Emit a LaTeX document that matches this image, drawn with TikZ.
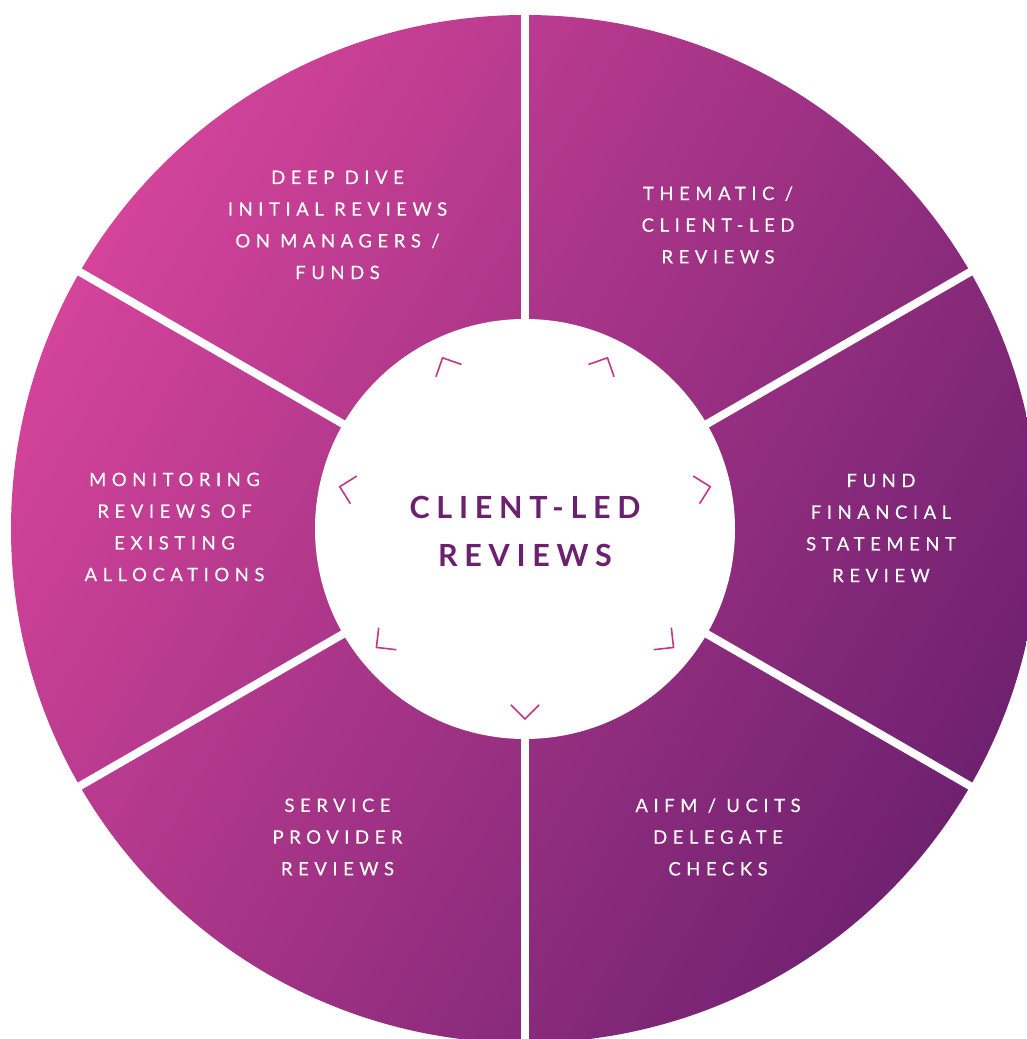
\documentclass[tikz,border=0pt]{standalone}
\usepackage{fontspec}
\setmainfont{Lato}
\newfontfamily\segfont[LetterSpace=30,FakeBold=0.35]{Lato}
\newfontfamily\ctrfont[LetterSpace=22]{Lato}
\usetikzlibrary{calc}
\definecolor{wheelA}{HTML}{D3449A}
\definecolor{wheelB}{HTML}{6F2170}
\definecolor{ctrtext}{HTML}{6B2170}
\definecolor{chev}{HTML}{C2368B}
\tikzset{
  sep/.style={white, line width=8pt},
  segtext/.style={text=white, align=center, inner sep=0pt,
    font=\segfont\fontsize{18.5}{31.7}\selectfont},
  ctrtextstyle/.style={text=ctrtext, align=center, inner sep=0pt,
    font=\ctrfont\bfseries\fontsize{30.5}{48}\selectfont},
  chevstyle/.style={draw=chev, line width=1.6pt, line cap=butt, line join=miter}
}
\begin{document}
\begin{tikzpicture}[x=1pt,y=1pt]
\useasboundingbox (0,0) rectangle (1027,1039);
\clip (0,0) rectangle (1027,1039);
\coordinate (O) at (525,510);
% shaded wheel
\shade[top color=wheelA, bottom color=wheelB, shading angle=60] (O) circle (514);
% separators
\foreach \a in {30,90,150,210,270,330}{
  \path (O) ++(\a:545) coordinate (e\a);
  \draw[sep] (O) -- (e\a);
}
% centre disc
\fill[white] (O) circle (210);
% chevrons
\foreach \k in {0,...,6}{
  \pgfmathsetmacro{\ang}{-90+\k*360/7}
  \path (O) ++(\ang:190) coordinate (v\k);
  \path (v\k) ++(\ang+135:20) coordinate (p\k);
  \path (v\k) ++(\ang-135:20) coordinate (q\k);
  \draw[chevstyle] (p\k) -- (v\k) -- (q\k);
}
% centre text
\node[ctrtextstyle] (ctr) at ($(O)+(0,-2)$) {CLIENT-LED\\REVIEWS};
% segment texts
\node[segtext] (deep) at ($(O)+(-187.5,304)$) {DEEP DIVE\\INITIAL REVIEWS\\ON MANAGERS /\\FUNDS};
\node[segtext] (thematic) at ($(O)+(193,304)$) {THEMATIC /\\CLIENT-LED\\REVIEWS};
\node[segtext] (fund) at ($(O)+(356,1)$) {FUND\\FINANCIAL\\STATEMENT\\REVIEW};
\node[segtext] (aifm) at ($(O)+(193,-308)$) {AIFM / UCITS\\DELEGATE\\CHECKS};
\node[segtext] (service) at ($(O)+(-187.5,-308)$) {SERVICE\\PROVIDER\\REVIEWS};
\node[segtext] (monitor) at ($(O)+(-350.5,2)$) {MONITORING\\REVIEWS OF\\EXISTING\\ALLOCATIONS};
\end{tikzpicture}
\end{document}
